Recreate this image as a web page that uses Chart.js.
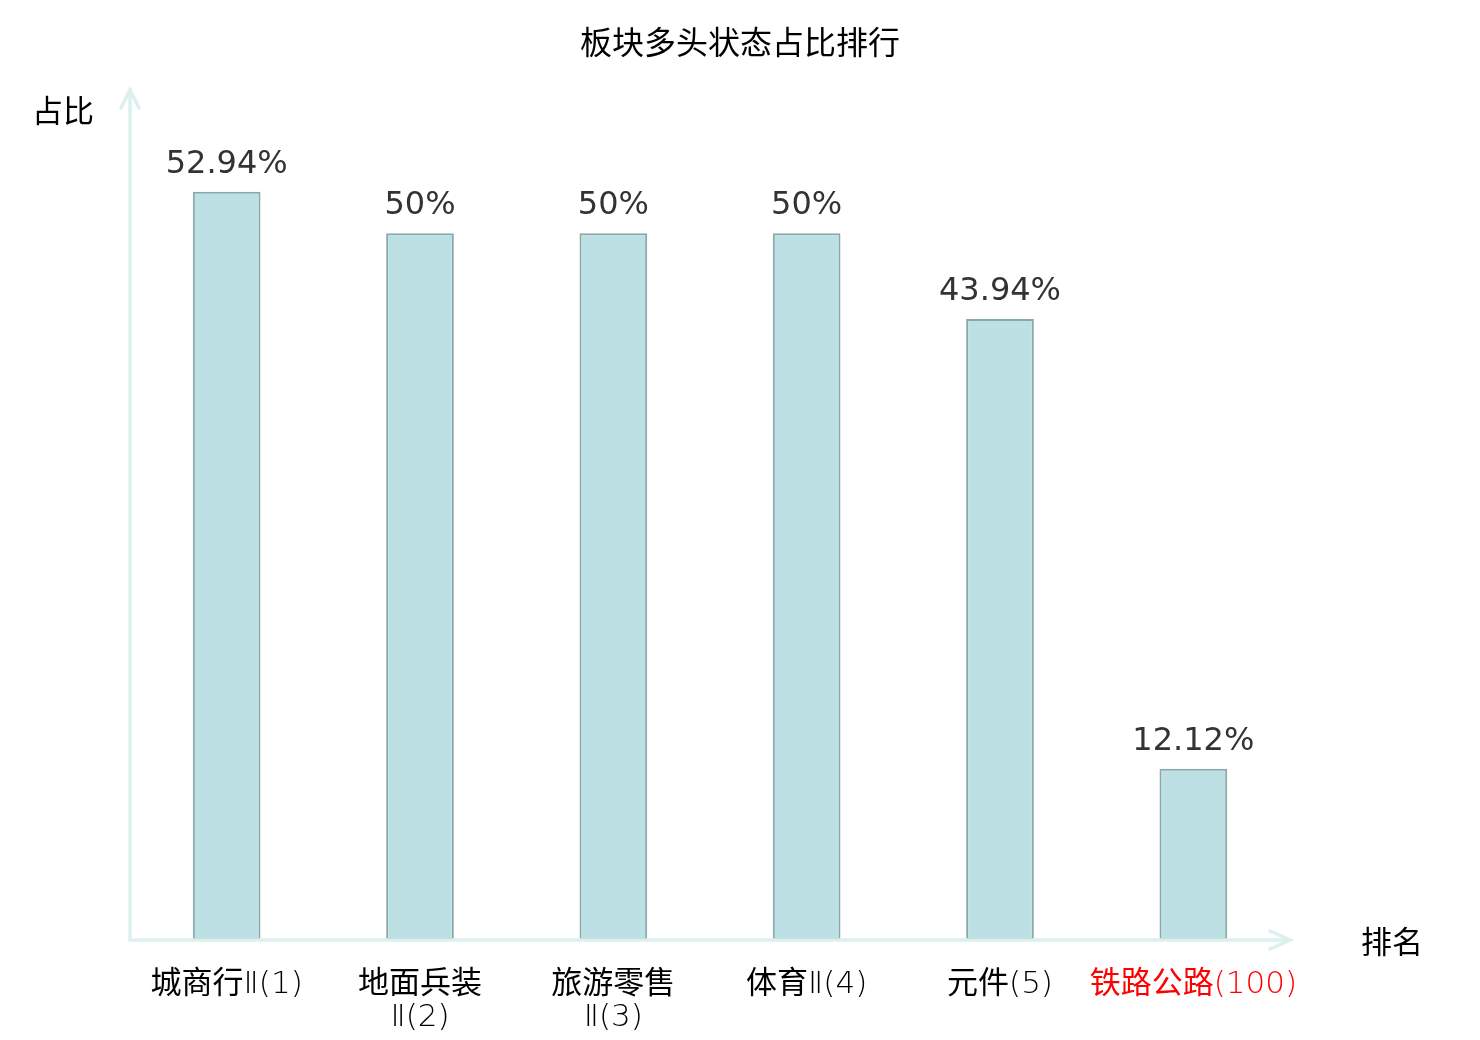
<!DOCTYPE html>
<html>
<head>
<meta charset="utf-8">
<script src="https://cdn.jsdelivr.net/npm/chart.js@4"></script>
<style>
  html, body { margin: 0; padding: 0; background: #fff; }
  #wrap { width: 1480px; height: 1040px; }
</style>
</head>
<body>
<div id="wrap"><canvas id="myChart"></canvas></div>
<script>
// chart data
const categories = [['城商行Ⅱ(1)'], ['地面兵装', 'Ⅱ(2)'], ['旅游零售', 'Ⅱ(3)'], ['体育Ⅱ(4)'], ['元件(5)'], ['铁路公路(100)']];
const ratios = [52.94, 50, 50, 50, 43.94, 12.12];
const valueLabels = ['52.94%', '50%', '50%', '50%', '43.94%', '12.12%'];
const highlightIndex = 5;

const cjkFont = '"Noto Sans CJK SC", "Noto Sans", sans-serif';
const axisColor = '#dcf1ee';

// axes with arrows, title, axis names and value labels
const decorPlugin = {
    id: 'decor',
    afterDatasetsDraw(chart) {
        const ctx = chart.ctx;
        const area = chart.chartArea;
        ctx.save();

        // axis lines
        ctx.strokeStyle = axisColor;
        ctx.lineWidth = 3.5;
        ctx.lineCap = 'round';
        ctx.beginPath();
        ctx.moveTo(area.left, area.top - 2);
        ctx.lineTo(area.left, area.bottom);
        ctx.lineTo(area.right, area.bottom);
        ctx.stroke();
        // y arrow
        ctx.beginPath();
        ctx.moveTo(area.left - 9, area.top + 16);
        ctx.lineTo(area.left, area.top - 2);
        ctx.lineTo(area.left + 9, area.top + 16);
        ctx.stroke();
        // x arrow
        ctx.beginPath();
        ctx.moveTo(area.right - 20, area.bottom - 9);
        ctx.lineTo(area.right, area.bottom);
        ctx.lineTo(area.right - 20, area.bottom + 9);
        ctx.stroke();

        // title and axis names
        ctx.fillStyle = '#000';
        ctx.textAlign = 'center';
        ctx.textBaseline = 'middle';
        ctx.font = '32px ' + cjkFont;
        ctx.fillText('板块多头状态占比排行', 740, 42);
        ctx.font = '31px ' + cjkFont;
        ctx.fillText('占比', 63, 110);
        ctx.fillText('排名', 1392, 941);

        // value labels
        ctx.fillStyle = '#333';
        ctx.font = '32px "DejaVu Sans", sans-serif';
        ctx.textBaseline = 'alphabetic';
        chart.getDatasetMeta(0).data.forEach((bar, i) => {
            ctx.fillText(valueLabels[i], bar.x, bar.y - 19);
        });
        ctx.restore();
    }
};

new Chart(document.getElementById('myChart').getContext('2d'), {
    type: 'bar',
    data: {
        labels: categories,
        datasets: [{
            data: ratios,
            backgroundColor: '#bce0e3',
            borderColor: '#8aa8a9',
            borderWidth: 2,
            borderSkipped: false,
            barPercentage: 0.35,
            categoryPercentage: 1
        }]
    },
    options: {
        responsive: true,
        maintainAspectRatio: false,
        animation: false,
        layout: {
            padding: { top: 92, right: 190, left: 0, bottom: 0 }
        },
        plugins: {
            legend: { display: false },
            tooltip: { enabled: false }
        },
        scales: {
            x: {
                grid: { display: false, drawTicks: false },
                border: { display: false },
                ticks: {
                    padding: 29,
                    maxRotation: 0,
                    autoSkip: false,
                    font: { family: '"DejaVu Sans Light", "DejaVu Sans ExtraLight", ' + cjkFont, size: 31, lineHeight: 1.05 },
                    color: (c) => c.index === highlightIndex ? '#ff0000' : '#000'
                },
                afterFit(scale) { scale.height = 100; }
            },
            y: {
                min: 0,
                max: 60,
                grid: { display: false, drawTicks: false },
                border: { display: false },
                ticks: { display: false },
                afterFit(scale) { scale.width = 130; }
            }
        }
    },
    plugins: [decorPlugin]
});
</script>
</body>
</html>
